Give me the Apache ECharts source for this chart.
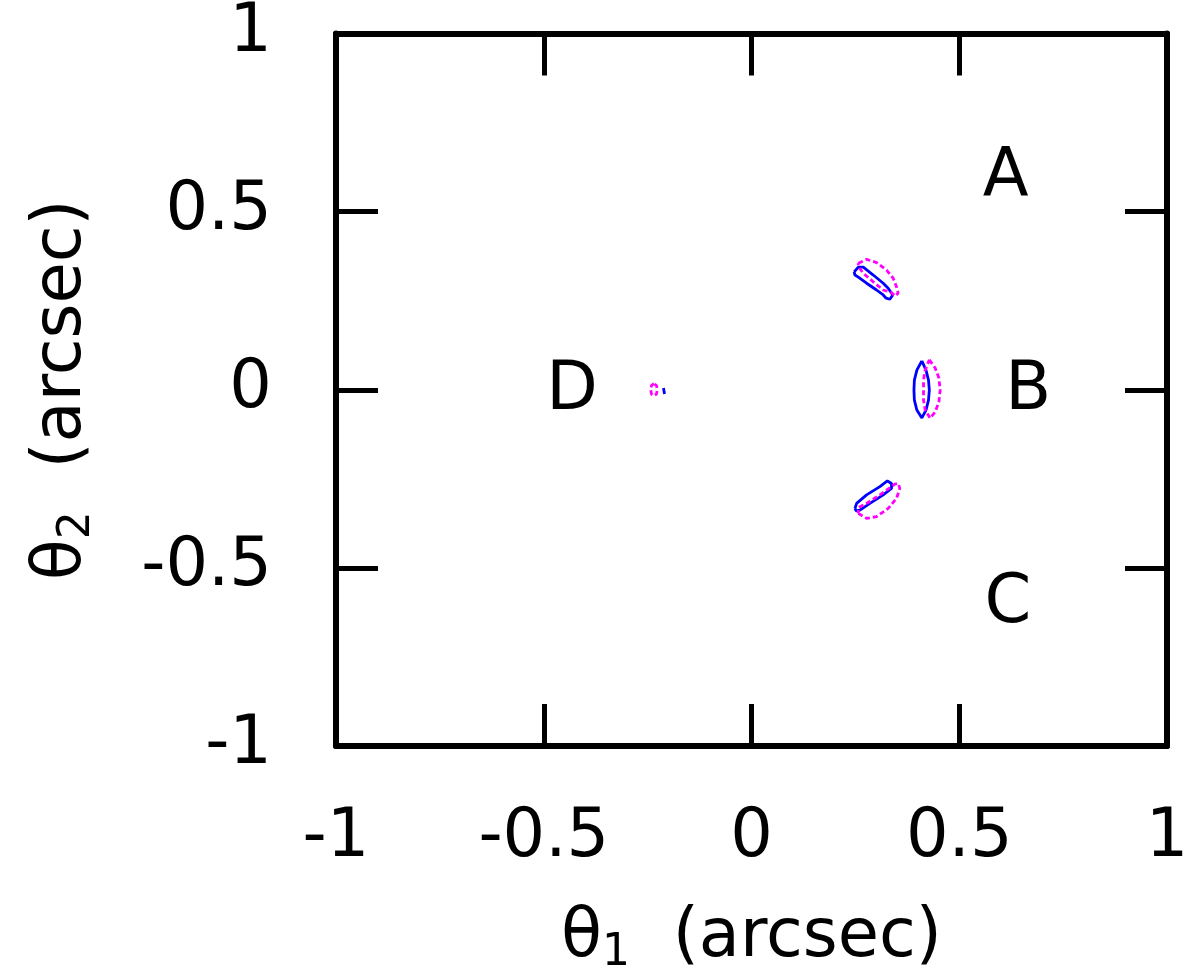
<!DOCTYPE html>
<html lang="en" style="height: 100%">
<head>
  <meta charset="utf-8">
</head>
<body style="height: 100%; margin: 0; background: #fff">
  <div id="container" style="width: 1186px; height: 974px"></div>
  <script type="text/javascript" src="https://cdn.jsdelivr.net/npm/echarts@6/dist/echarts.min.js"></script>
  <script type="text/javascript">
    // axis ticks (arcsec)
    var tickMin = -1, tickMax = 1, tickStep = 0.5;

    // image labels
    var imageNames = ['A', 'B', 'C', 'D'];
    var imageX = [0.612, 0.666, 0.617, -0.432];
    var imageY = [0.594, -0.006, -0.604, -0.006];

    // blue solid contours (model)
    var modelA = [[0.247,0.331],[0.257,0.344],[0.269,0.344],[0.293,0.322],[0.317,0.299],[0.329,0.285],[0.333,0.280],[0.340,0.266],[0.333,0.254],[0.324,0.257],[0.317,0.266],[0.301,0.280],[0.277,0.299],[0.257,0.316],[0.249,0.322],[0.247,0.331]];
    var modelB = [[0.410,0.081],[0.398,0.055],[0.392,0.027],[0.391,-0.001],[0.392,-0.029],[0.398,-0.057],[0.410,-0.079],[0.420,-0.057],[0.426,-0.029],[0.428,-0.001],[0.426,0.027],[0.420,0.055],[0.410,0.081]];
    var modelC = [[0.249,-0.333],[0.253,-0.319],[0.277,-0.295],[0.309,-0.272],[0.327,-0.256],[0.337,-0.263],[0.337,-0.277],[0.317,-0.295],[0.285,-0.319],[0.261,-0.338],[0.252,-0.340],[0.249,-0.333]];
    var modelD = [[-0.2118,0.005],[-0.2094,0.005],[-0.2094,-0.012],[-0.2118,-0.012],[-0.2118,0.005]];

    // magenta dashed contours (observed)
    var obsA = [[0.257,0.355],[0.277,0.366],[0.301,0.357],[0.325,0.336],[0.341,0.313],[0.349,0.289],[0.353,0.271],[0.345,0.263],[0.337,0.273],[0.317,0.280],[0.293,0.303],[0.269,0.327],[0.257,0.346],[0.257,0.355]];
    var obsB = [[0.428,0.084],[0.442,0.061],[0.451,0.033],[0.454,-0.001],[0.451,-0.034],[0.442,-0.062],[0.430,-0.080],[0.418,-0.057],[0.414,-0.029],[0.414,-0.001],[0.414,0.027],[0.418,0.055],[0.428,0.084]];
    var obsC = [[0.257,-0.347],[0.277,-0.361],[0.301,-0.356],[0.329,-0.333],[0.349,-0.305],[0.357,-0.277],[0.353,-0.263],[0.345,-0.265],[0.309,-0.295],[0.277,-0.319],[0.257,-0.331],[0.257,-0.347]];
    var obsD = [[-0.2347,0.017],[-0.2407,0.012],[-0.2427,0.000],[-0.2407,-0.012],[-0.2347,-0.017],[-0.2287,-0.012],[-0.2267,0.000],[-0.2287,0.012],[-0.2347,0.017]];

    var modelCurves = [modelA, modelB, modelC, modelD];
    var obsCurves = [obsA, obsB, obsC, obsD];

    var FONT = 'DejaVu Sans';
    var FS = 67;

    var dom = document.getElementById('container');
    var myChart = echarts.init(dom, null, { renderer: 'canvas' });

    function axisCommon(extra) {
      var a = {
        type: 'value',
        min: tickMin,
        max: tickMax,
        interval: tickStep,
        splitLine: { show: false },
        axisLine: { show: true, onZero: false, lineStyle: { color: '#000', width: 6 } },
        axisTick: { show: true, inside: true, length: 42, lineStyle: { color: '#000', width: 5 } },
        axisLabel: { show: false }
      };
      for (var k in extra) a[k] = extra[k];
      return a;
    }

    var series = [];
    modelCurves.forEach(function (c) {
      series.push({
        type: 'line', data: c, showSymbol: false, symbol: 'none',
        lineStyle: { color: '#0000ff', width: 2.8 }, silent: true
      });
    });
    obsCurves.forEach(function (c) {
      series.push({
        type: 'line', data: c, showSymbol: false, symbol: 'none',
        lineStyle: { color: '#ff00ff', width: 2.8, type: [5, 3] }, silent: true
      });
    });
    series.push({
      type: 'scatter',
      symbolSize: 0,
      itemStyle: { opacity: 1 },
      data: imageNames.map(function (n, i) { return { name: n, value: [imageX[i], imageY[i]] }; }),
      label: {
        show: true, position: 'inside', formatter: '{b}', opacity: 1,
        color: '#000', fontFamily: FONT, fontSize: FS
      }
    });

    var option = {
      animation: false,
      backgroundColor: '#fff',
      grid: { left: 336, right: 19, top: 33.5, bottom: 228, containLabel: false, outerBoundsMode: 'none' },
      xAxis: [
        axisCommon({
          position: 'bottom',
          axisLabel: { show: true, margin: 59, color: '#000', fontFamily: FONT, fontSize: FS },
          name: '{t|θ}{s|1}{t|  (arcsec)}',
          nameLocation: 'middle',
          nameGap: 156,
          nameTextStyle: {
            rich: {
              t: { fontFamily: FONT, fontSize: FS, color: '#000', lineHeight: 72 },
              s: { fontFamily: FONT, fontSize: 44, color: '#000', padding: [30, 0, 0, 0] }
            }
          }
        }),
        axisCommon({ position: 'top' })
      ],
      yAxis: [
        axisCommon({
          position: 'left',
          axisLabel: { show: true, margin: 64, color: '#000', fontFamily: FONT, fontSize: FS },
          name: '{t|θ}{s|2}{t|  (arcsec)}',
          nameLocation: 'middle',
          nameRotate: 90,
          nameGap: 236,
          nameTextStyle: {
            rich: {
              t: { fontFamily: FONT, fontSize: FS, color: '#000', lineHeight: 72 },
              s: { fontFamily: FONT, fontSize: 44, color: '#000', padding: [30, 0, 0, 0] }
            }
          }
        }),
        axisCommon({ position: 'right' })
      ],
      series: series
    };

    myChart.setOption(option);
    window.addEventListener('resize', myChart.resize);
  </script>
</body>
</html>
